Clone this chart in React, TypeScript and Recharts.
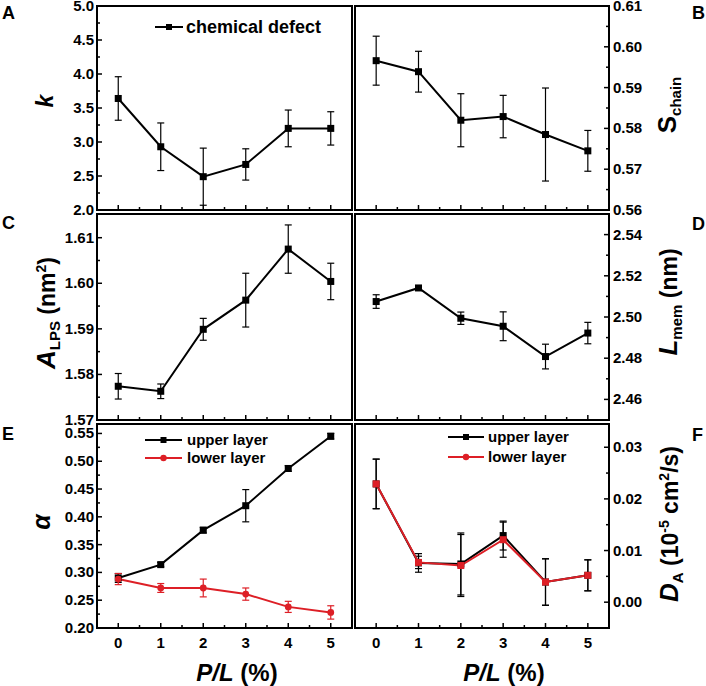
import React from 'react';
import { LineChart, Line, XAxis, YAxis, ErrorBar, ReferenceArea, Legend } from 'recharts';

const FONT = '"Liberation Sans", Arial, Helvetica, sans-serif';
const RED = '#dd1f26';
const W = 706;
const H = 686;

// P/L (%) on every x axis
const plPercent = [0, 1, 2, 3, 4, 5];
const xMajor = [0, 1, 2, 3, 4, 5];
const X_DOMAIN: [number, number] = [-0.5, 5.5];

// A: k
const kValues = [3.64, 2.93, 2.49, 2.67, 3.2, 3.2];
const kErrors = [0.32, 0.35, 0.42, 0.23, 0.27, 0.245];
const kTicks = [2.0, 2.5, 3.0, 3.5, 4.0, 4.5, 5.0];

// B: S_chain
const sValues = [0.5966, 0.5939, 0.582, 0.5829, 0.5785, 0.5745];
const sErrors = [0.006, 0.005, 0.0065, 0.0052, 0.0114, 0.005];
const sTicks = [0.56, 0.57, 0.58, 0.59, 0.6, 0.61];

// C: A_LPS
const aValues = [1.5774, 1.5763, 1.5899, 1.5963, 1.6075, 1.6004];
const aErrors = [0.0028, 0.0016, 0.0024, 0.0059, 0.0053, 0.004];
const aTicks = [1.57, 1.58, 1.59, 1.6, 1.61];

// D: L_mem
const lValues = [2.5075, 2.5141, 2.4994, 2.4955, 2.4808, 2.4922];
const lErrors = [0.0033, 0.0005, 0.003, 0.007, 0.006, 0.0052];
const lTicks = [2.46, 2.48, 2.5, 2.52, 2.54];

// E: alpha
const alphaUpper = [0.29, 0.314, 0.376, 0.42, 0.487, 0.545];
const alphaUpperErr = [0.008, 0.004, 0.005, 0.029, 0.005, 0.005];
const alphaLower = [0.288, 0.272, 0.272, 0.261, 0.238, 0.228];
const alphaLowerErr = [0.01, 0.008, 0.016, 0.011, 0.01, 0.012];
const alphaTicks = [0.2, 0.25, 0.3, 0.35, 0.4, 0.45, 0.5, 0.55];

// F: D_A
const dUpper = [0.0229, 0.0076, 0.0074, 0.0129, 0.0039, 0.0052];
const dUpperErr = [0.0048, 0.0018, 0.006, 0.0028, 0.0045, 0.003];
const dLower = [0.0229, 0.0077, 0.0071, 0.0121, 0.0039, 0.0052];
const dLowerErr = [0.0048, 0.0012, 0.006, 0.0034, 0.0045, 0.003];
const dTicks = [0.0, 0.01, 0.02, 0.03];

const legendA = ['chemical defect'];
const legendLayers = ['upper layer', 'lower layer'];
const panelLetters = ['A', 'B', 'C', 'D', 'E', 'F'];

// major ticks plus a minor tick halfway between each pair
const withMinor = (major: number[]) => {
  const out: number[] = [];
  major.forEach((m, i) => {
    out.push(m);
    if (i < major.length - 1) out.push((m + major[i + 1]) / 2);
  });
  return out;
};
const isMajor = (v: number, majors: number[]) => majors.some((m) => Math.abs(m - v) < 1e-9);

const XTick = (props: any) => {
  const { x, y, payload, showLabel } = props;
  const major = isMajor(payload.value, xMajor);
  return (
    <g>
      <line x1={x} x2={x} y1={y} y2={y - (major ? 5 : 3)} stroke="#000" strokeWidth={1.5} />
      {major && showLabel && (
        <text x={x} y={y + 20} textAnchor="middle" fontSize={15} fontWeight={700} fontFamily={FONT} fill="#000">
          {payload.value}
        </text>
      )}
    </g>
  );
};

const YTick = (props: any) => {
  const { x, y, payload, majors, side, decimals } = props;
  const major = isMajor(payload.value, majors);
  const dir = side === 'left' ? 1 : -1;
  return (
    <g>
      <line x1={x} x2={x + dir * (major ? 5 : 3)} y1={y} y2={y} stroke="#000" strokeWidth={1.5} />
      {major && (
        <text
          x={side === 'left' ? x - 3 : x + 4}
          y={y + 5}
          textAnchor={side === 'left' ? 'end' : 'start'}
          fontSize={15}
          fontWeight={700}
          fontFamily={FONT}
          fill="#000"
        >
          {payload.value.toFixed(decimals)}
        </text>
      )}
    </g>
  );
};

const squareDot = (color: string, size = 7) => (p: any) => (
  <rect key={`sq-${p.index}`} x={p.cx - size / 2} y={p.cy - size / 2} width={size} height={size} fill={color} />
);
const circleDot = (color: string, r = 3.4) => (p: any) => (
  <circle key={`ci-${p.index}`} cx={p.cx} cy={p.cy} r={r} fill={color} />
);

type LegendItem = { name: string; color: string; marker: 'square' | 'circle' };

const LegendBox = ({ items, fontSize, rowH, symW, gap }: { items: LegendItem[]; fontSize: number; rowH: number; symW: number; gap: number }) => (
  <div style={{ fontFamily: FONT, fontWeight: 700, fontSize, color: '#000', lineHeight: `${rowH}px` }}>
    {items.map((it) => (
      <div key={it.name} style={{ display: 'flex', alignItems: 'center', height: rowH, whiteSpace: 'nowrap' }}>
        <svg width={symW} height={rowH} style={{ display: 'block' }}>
          <line x1={0} x2={symW} y1={rowH / 2} y2={rowH / 2} stroke={it.color} strokeWidth={2} />
          {it.marker === 'square' ? (
            <rect x={symW / 2 - 3} y={rowH / 2 - 3} width={6} height={6} fill={it.color} />
          ) : (
            <circle cx={symW / 2} cy={rowH / 2} r={3.2} fill={it.color} />
          )}
        </svg>
        <span style={{ marginLeft: gap }}>{it.name}</span>
      </div>
    ))}
  </div>
);

type SeriesDef = { valueKey: string; errKey: string; color: string; errColor: string; marker: 'square' | 'circle' };
type Box = { left: number; top: number; right: number; bottom: number };

type PanelProps = {
  box: Box;
  rows: any[];
  series: SeriesDef[];
  yDomain: [number, number];
  yMajor: number[];
  decimals: number;
  side: 'left' | 'right';
  xLabels: boolean;
  yTitle: React.ReactElement;
  xTitle?: React.ReactElement;
  legend?: { left: number; top: number; node: React.ReactElement };
};

const Panel = (p: PanelProps) => {
  const { box } = p;
  const xTicks = withMinor(xMajor);
  const yTicks = withMinor(p.yMajor);
  // axes are 1px thick (recharts skips 0-sized axes), margins compensate
  const margin = {
    top: box.top,
    bottom: H - box.bottom - 1,
    left: p.side === 'left' ? box.left - 1 : box.left,
    right: p.side === 'right' ? W - box.right - 1 : W - box.right,
  };
  return (
    <div style={{ position: 'absolute', left: 0, top: 0 }}>
      <LineChart width={W} height={H} data={p.rows} margin={margin}>
        <XAxis
          type="number"
          dataKey="x"
          domain={X_DOMAIN}
          ticks={xTicks}
          interval={0}
          allowDataOverflow
          height={1}
          tickSize={0}
          tickMargin={0}
          axisLine={false}
          tickLine={false}
          tick={(t: any) => <XTick {...t} showLabel={p.xLabels} />}
          label={p.xTitle ? () => p.xTitle : undefined}
        />
        <YAxis
          type="number"
          orientation={p.side}
          domain={p.yDomain}
          ticks={yTicks}
          interval={0}
          allowDataOverflow
          width={1}
          tickSize={0}
          tickMargin={0}
          axisLine={false}
          tickLine={false}
          tick={(t: any) => <YTick {...t} majors={p.yMajor} side={p.side} decimals={p.decimals} />}
          label={() => p.yTitle}
        />
        <ReferenceArea
          x1={X_DOMAIN[0]}
          x2={X_DOMAIN[1]}
          y1={p.yDomain[0]}
          y2={p.yDomain[1]}
          fill="none"
          stroke="#000"
          strokeWidth={2}
          ifOverflow="visible"
        />
        {p.series.map((s) => (
          <Line
            key={s.valueKey}
            type="linear"
            dataKey={s.valueKey}
            stroke={s.color}
            strokeWidth={2}
            dot={s.marker === 'square' ? squareDot(s.color) : circleDot(s.color)}
            activeDot={false}
            isAnimationActive={false}
          >
            <ErrorBar dataKey={s.errKey} direction="y" width={3.5} stroke={s.errColor} strokeWidth={1.2} isAnimationActive={false} />
          </Line>
        ))}
        {p.legend && (
          <Legend
            layout="horizontal"
            verticalAlign="middle"
            align="center"
            wrapperStyle={{ left: p.legend.left, top: p.legend.top, width: 'auto', height: 'auto' }}
            content={() => p.legend!.node}
          />
        )}
      </LineChart>
    </div>
  );
};

const titleProps = { fontFamily: FONT, fontWeight: 700, fill: '#000', textAnchor: 'middle' as const };

const rotated = (x: number, y: number, children: React.ReactNode) => (
  <text transform={`translate(${x},${y}) rotate(-90)`} {...titleProps}>
    {children}
  </text>
);

const xTitle = (cx: number) => (
  <text x={cx} y={681} {...titleProps} fontSize={24}>
    <tspan fontStyle="italic">P/L</tspan>
    <tspan> (%)</tspan>
  </text>
);

const rowsA = plPercent.map((x, i) => ({ x, v0: kValues[i], e0: kErrors[i] }));
const rowsB = plPercent.map((x, i) => ({ x, v0: sValues[i], e0: sErrors[i] }));
const rowsC = plPercent.map((x, i) => ({ x, v0: aValues[i], e0: aErrors[i] }));
const rowsD = plPercent.map((x, i) => ({ x, v0: lValues[i], e0: lErrors[i] }));
const rowsE = plPercent.map((x, i) => ({ x, v0: alphaUpper[i], e0: alphaUpperErr[i], v1: alphaLower[i], e1: alphaLowerErr[i] }));
const rowsF = plPercent.map((x, i) => ({ x, v0: dUpper[i], e0: dUpperErr[i], v1: dLower[i], e1: dLowerErr[i] }));

const blackSeries: SeriesDef[] = [{ valueKey: 'v0', errKey: 'e0', color: '#000', errColor: '#000', marker: 'square' }];

// where each panel letter sits (baseline)
const letterPos = [
  [2, 19],
  [692, 19],
  [2, 229],
  [692, 230],
  [2, 440],
  [692, 441],
];

export default function App() {
  return (
    <div style={{ position: 'relative', width: W, height: H, background: '#fff', overflow: 'hidden' }}>
      <style>{'body{margin:0}'}</style>

      <Panel
        box={{ left: 97, top: 6, right: 352, bottom: 210 }}
        rows={rowsA}
        series={blackSeries}
        yDomain={[2, 5]}
        yMajor={kTicks}
        decimals={1}
        side="left"
        xLabels={false}
        yTitle={rotated(53, 101, <tspan fontSize={23} fontStyle="italic">k</tspan>)}
        legend={{
          left: 155,
          top: 17,
          node: <LegendBox items={[{ name: legendA[0], color: '#000', marker: 'square' }]} fontSize={18} rowH={20} symW={28} gap={3} />,
        }}
      />
      <Panel
        box={{ left: 355, top: 6, right: 609, bottom: 210 }}
        rows={rowsB}
        series={blackSeries}
        yDomain={[0.56, 0.61]}
        yMajor={sTicks}
        decimals={2}
        side="right"
        xLabels={false}
        yTitle={rotated(
          676,
          105,
          <>
            <tspan fontSize={26}>S</tspan>
            <tspan fontSize={15} dy={5}>chain</tspan>
          </>
        )}
      />
      <Panel
        box={{ left: 97, top: 214, right: 352, bottom: 420 }}
        rows={rowsC}
        series={blackSeries}
        yDomain={[1.57, 1.6152]}
        yMajor={aTicks}
        decimals={2}
        side="left"
        xLabels={false}
        yTitle={rotated(
          55,
          313,
          <>
            <tspan fontSize={26} fontStyle="italic">A</tspan>
            <tspan fontSize={15} dy={5}>LPS</tspan>
            <tspan fontSize={23} dy={-5}> (nm</tspan>
            <tspan fontSize={14} dy={-9}>2</tspan>
            <tspan fontSize={23} dy={9}>)</tspan>
          </>
        )}
      />
      <Panel
        box={{ left: 355, top: 214, right: 609, bottom: 420 }}
        rows={rowsD}
        series={blackSeries}
        yDomain={[2.45, 2.55]}
        yMajor={lTicks}
        decimals={2}
        side="right"
        xLabels={false}
        yTitle={rotated(
          677,
          302,
          <>
            <tspan fontSize={26} fontStyle="italic">L</tspan>
            <tspan fontSize={15} dy={5}>mem</tspan>
            <tspan fontSize={23} dy={-5}> (nm)</tspan>
          </>
        )}
      />
      <Panel
        box={{ left: 97, top: 424, right: 352, bottom: 628 }}
        rows={rowsE}
        series={[
          { valueKey: 'v0', errKey: 'e0', color: '#000', errColor: '#000', marker: 'square' },
          { valueKey: 'v1', errKey: 'e1', color: RED, errColor: RED, marker: 'circle' },
        ]}
        yDomain={[0.2, 0.567]}
        yMajor={alphaTicks}
        decimals={2}
        side="left"
        xLabels
        xTitle={xTitle(237)}
        yTitle={rotated(50, 522, <tspan fontSize={25} fontStyle="italic">α</tspan>)}
        legend={{
          left: 145,
          top: 431,
          node: (
            <LegendBox
              items={[
                { name: legendLayers[0], color: '#000', marker: 'square' },
                { name: legendLayers[1], color: RED, marker: 'circle' },
              ]}
              fontSize={15}
              rowH={18}
              symW={37}
              gap={5}
            />
          ),
        }}
      />
      <Panel
        box={{ left: 355, top: 424, right: 609, bottom: 628 }}
        rows={rowsF}
        series={[
          { valueKey: 'v0', errKey: 'e0', color: '#000', errColor: '#000', marker: 'square' },
          { valueKey: 'v1', errKey: 'e1', color: RED, errColor: '#000', marker: 'square' },
        ]}
        yDomain={[-0.005, 0.0345]}
        yMajor={dTicks}
        decimals={2}
        side="right"
        xLabels
        xTitle={xTitle(504)}
        yTitle={rotated(
          678,
          524,
          <>
            <tspan fontSize={26} fontStyle="italic">D</tspan>
            <tspan fontSize={15} dy={5}>A</tspan>
            <tspan fontSize={23} dy={-5}> (10</tspan>
            <tspan fontSize={14} dy={-9}>-5</tspan>
            <tspan fontSize={23} dy={9}> cm</tspan>
            <tspan fontSize={14} dy={-9}>2</tspan>
            <tspan fontSize={23} dy={9}>/s)</tspan>
          </>
        )}
        legend={{
          left: 448,
          top: 427,
          node: (
            <LegendBox
              items={[
                { name: legendLayers[0], color: '#000', marker: 'square' },
                { name: legendLayers[1], color: RED, marker: 'circle' },
              ]}
              fontSize={15}
              rowH={20}
              symW={36}
              gap={4}
            />
          ),
        }}
      />

      <svg width={W} height={H} style={{ position: 'absolute', left: 0, top: 0, pointerEvents: 'none' }}>
        {panelLetters.map((t, i) => (
          <text key={t} x={letterPos[i][0]} y={letterPos[i][1]} fontSize={18} fontWeight={700} fontFamily={FONT} fill="#000">
            {t}
          </text>
        ))}
      </svg>
    </div>
  );
}
